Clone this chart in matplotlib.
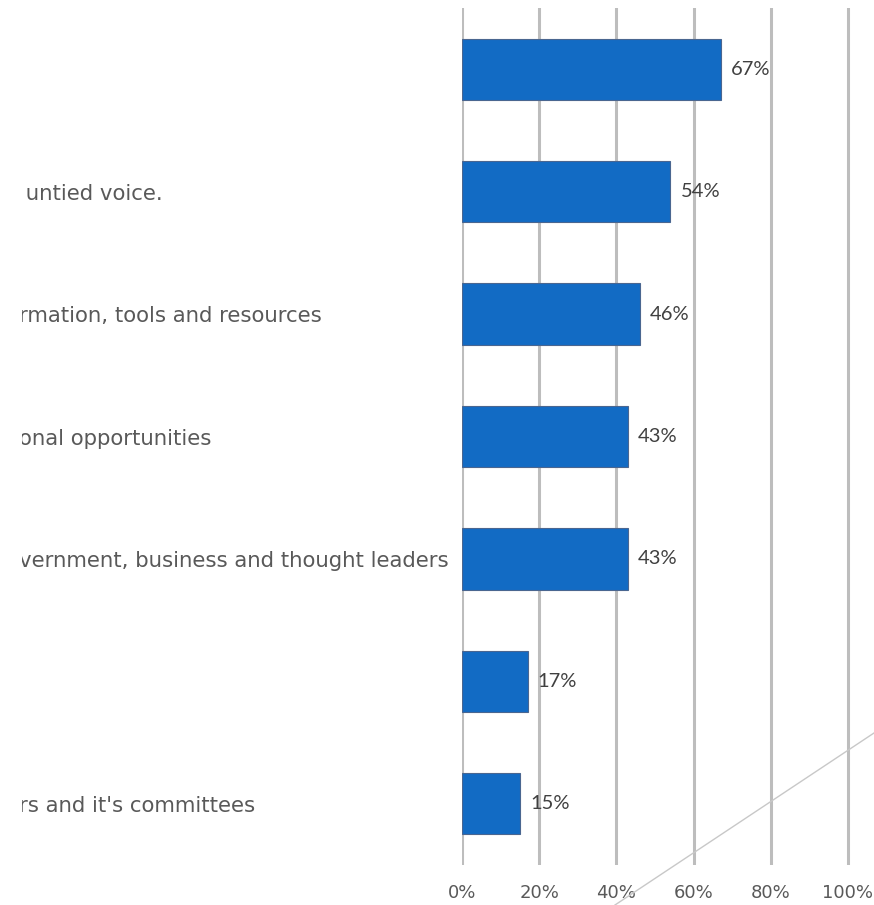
import matplotlib
matplotlib.use("Agg")
import matplotlib.pyplot as plt
from matplotlib.lines import Line2D
from matplotlib.transforms import Bbox, TransformedBbox

# survey answers, top to bottom (text is cut on the left side of the slide)
categories = [
    "",
    " untied voice.",
    "rmation, tools and resources",
    "onal opportunities",
    "vernment, business and thought leaders",
    "",
    "rs and it's committees",
]
percent = [67, 54, 46, 43, 43, 17, 15]
xticks = [0, 20, 40, 60, 80, 100]
xtick_labels = ["0%", "20%", "40%", "60%", "80%", "100%"]

W, H, DPI = 874, 905, 100
fig = plt.figure(figsize=(W / DPI, H / DPI), dpi=DPI)
fig.patch.set_facecolor("white")

# axes area in pixels: x from the 0% line to the right edge
left_px, right_px = 462, 874
top_px, bottom_px = 8, 865
ax = fig.add_axes([left_px / W, 1 - bottom_px / H,
                   (right_px - left_px) / W, (bottom_px - top_px) / H])

n = len(categories)
ypos = list(range(n - 1, -1, -1))

ax.barh(ypos, percent, height=0.5, color="#126BC4",
        edgecolor="#4A6690", linewidth=0.8, zorder=3)

for y, v in zip(ypos, percent):
    ax.text(v + 2.6, y, f"{v}%", va="center", ha="left",
            fontsize=14.5, family="Lato", color="#404040", zorder=4)

px_per_pct = (848 - left_px) / 100
ax.set_xlim(0, (right_px - left_px) / px_per_pct)
ax.set_ylim(-0.5, n - 0.5)

ax.set_xticks(xticks)
ax.set_xticklabels(xtick_labels, fontsize=13, family="DejaVu Sans",
                   color="#595959")
ax.set_yticks(ypos)
ax.set_yticklabels(categories, fontsize=15.3, family="DejaVu Sans",
                   color="#595959", ha="left")
ax.tick_params(axis="y", length=0, pad=(left_px - 19) * 72 / DPI)
ax.tick_params(axis="x", length=0, pad=14)

# the label column is cut off a little way in from the left edge
cut = TransformedBbox(Bbox([[22 / W, 0], [1, 1]]), fig.transFigure)
for lab in ax.get_yticklabels():
    lab.set_clip_box(cut)
    lab.set_clip_on(True)

ax.grid(axis="x", color="#BDBDBD", linewidth=2.2, zorder=0)
ax.set_axisbelow(True)
for s in ax.spines.values():
    s.set_visible(False)

# thin connector line crossing the lower right corner
fig.add_artist(Line2D([615 / W, 1.0], [0.0, 1 - 733 / H],
                      color="#C8C8C8", linewidth=1.0,
                      transform=fig.transFigure))

fig.savefig("out.png", dpi=DPI, facecolor="white")
